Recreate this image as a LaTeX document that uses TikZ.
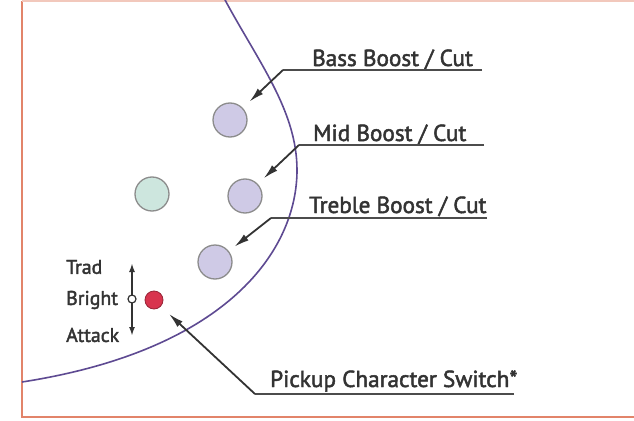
\documentclass[tikz,border=0pt]{standalone}
\usepackage{fontspec}
\setmainfont{PT Sans}[FakeBold=2]
\usetikzlibrary{arrows.meta}
\definecolor{frameC}{HTML}{E2846A}
\definecolor{curveC}{HTML}{5E4A92}
\definecolor{lav}{HTML}{CFCAE6}
\definecolor{mint}{HTML}{CDE6DE}
\definecolor{redC}{HTML}{D8344E}
\definecolor{txtC}{HTML}{333333}
\begin{document}
\begin{tikzpicture}[x=1pt,y=-1pt,
  lbl/.style={font=\fontsize{23.2}{23.2}\selectfont, text=txtC, inner sep=0pt, anchor=base west},
  small/.style={font=\fontsize{19.8}{19.8}\selectfont, text=txtC, inner sep=0pt, anchor=west},
  lead/.style={draw=txtC, line width=1.8pt, -{Latex[length=15pt,width=7.5pt]}},
  uline/.style={draw=black!70, line width=2.5pt},
  knob/.style={circle, draw=black!45, line width=1.3pt, fill=lav, minimum size=34pt, inner sep=0pt},
]
\useasboundingbox (0,0) rectangle (634,420);
\fill[white] (0,0) rectangle (634,420);
% frame
\draw[frameC, line width=2pt] (22,417) -- (22,1);
\draw[frameC!45, line width=1.5pt] (22,1) -- (634,1);
\draw[frameC, line width=2pt] (21,417) -- (634,417);
% body outline
\draw[curveC, line width=1.6pt] (224,-2) .. controls (257,60) and (297,110) .. (297,170)
  .. controls (297,250) and (228,350) .. (22,382);
% knobs
\node[knob] (bass) at (230,120) {};
\node[knob] (mid) at (245,196) {};
\node[knob, fill=mint] (vol) at (152,194) {};
\node[knob] (treble) at (215,262) {};
\node[circle, fill=redC, draw=redC!70!black, line width=0.8pt, minimum size=18pt, inner sep=0pt] (pcs) at (154,300) {};
% switch
\coordinate (swT) at (132,263);
\coordinate (swB) at (132,336);
\draw[txtC, line width=1.8pt, {Latex[length=9pt,width=6pt]}-{Latex[length=9pt,width=6pt]}] (swT) -- (swB);
\node[circle, draw=txtC, fill=white, line width=1.2pt, minimum size=8pt, inner sep=0pt] (sw) at (132,299) {};
\node[small] (trad) at (66,267) {Trad};
\node[small] (bright) at (66,300) {Bright};
\node[small] (attack) at (66,335) {Attack};
% labels
\node[lbl] (bassT) at (312,66) {Bass Boost / Cut};
\coordinate (bassA) at (283,70);
\coordinate (bassB) at (482,70);
\draw[uline] (bassB) -- (bassA);
\draw[lead, shorten >=9pt] (bassA) -- (bass);

\node[lbl] (midT) at (313,141) {Mid Boost / Cut};
\coordinate (midA) at (299,145);
\coordinate (midB) at (484,145);
\draw[uline] (midB) -- (midA);
\draw[lead, shorten >=8pt] (midA) -- (mid);

\node[lbl] (trebT) at (309,213) {Treble Boost / Cut};
\coordinate (trebA) at (271,218);
\coordinate (trebB) at (487,218);
\draw[uline] (trebB) -- (trebA);
\draw[lead, shorten >=7pt] (trebA) -- (treble);

\node[lbl] (pickT) at (270,387) {Pickup Character Switch*};
\coordinate (pickA) at (255,394);
\coordinate (pickB) at (514,394);
\draw[uline] (pickB) -- (pickA);
\draw[lead, shorten >=11pt] (pickA) -- (pcs);
\end{tikzpicture}
\end{document}
